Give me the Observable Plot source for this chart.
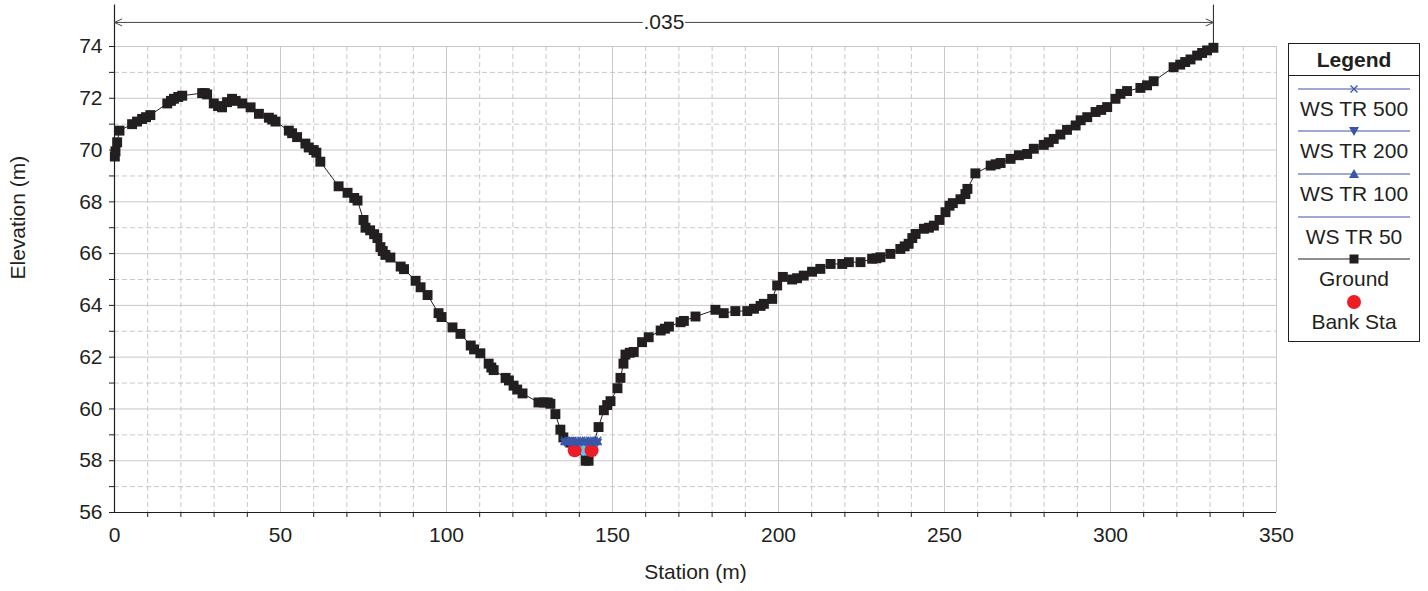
<!DOCTYPE html>
<html><head><meta charset="utf-8">
<script src="https://cdn.jsdelivr.net/npm/d3@7"></script>
<script src="https://cdn.jsdelivr.net/npm/@observablehq/plot@0.6"></script>
<style>
body{margin:0;background:#fff;font-family:"Liberation Sans",Arial,sans-serif;}
#wrap{position:relative;width:1428px;height:591px;overflow:hidden;}
#legend{position:absolute;left:1288px;top:43px;}
</style></head><body><div id="wrap"></div>
<script>
// ---- data ----
const groundStation = [0.1,0.3,0.8,1.5,5.3,6.8,8.3,9.5,10.8,15.9,17.0,17.9,19.2,20.4,26.4,27.2,27.9,29.9,31.2,32.4,33.9,35.4,36.5,38.5,41.0,43.5,46.5,47.5,48.5,52.5,53.5,55.0,57.5,58.5,60.0,60.8,62.0,67.5,70.2,72.2,73.2,75.0,75.6,77.0,78.2,79.2,80.1,80.8,81.6,83.1,86.2,87.2,90.7,92.2,94.3,97.6,98.5,101.8,104.2,107.3,108.3,110.2,112.7,113.5,114.2,117.8,118.8,120.2,121.3,122.9,127.7,129.3,130.5,131.3,132.8,134.3,135.2,137.3,141.9,142.8,145.8,147.4,148.4,149.4,151.5,152.4,153.3,153.9,155.2,156.4,158.9,160.9,164.5,165.8,167.0,170.5,171.5,175.0,181.0,183.5,187.0,190.6,192.6,194.6,195.6,198.1,199.6,201.3,204.1,205.6,207.6,210.1,212.6,215.7,219.2,221.2,224.7,228.2,229.5,230.7,233.7,236.7,238.0,239.2,240.3,241.3,243.8,245.3,246.8,248.5,250.3,251.5,252.5,254.8,256.3,256.9,259.3,263.9,265.4,266.9,269.9,272.4,274.9,276.9,279.9,281.4,282.9,284.9,286.9,289.5,291.0,293.0,295.5,297.2,299.0,301.5,303.0,305.0,309.0,311.0,313.0,319.0,321.0,322.5,324.1,326.1,327.6,329.1,331.0];
const groundElev = [69.75,69.95,70.3,70.75,71.0,71.1,71.2,71.27,71.35,71.8,71.9,71.98,72.05,72.1,72.2,72.2,72.15,71.8,71.7,71.65,71.85,71.98,71.9,71.8,71.65,71.4,71.25,71.18,71.1,70.75,70.65,70.5,70.25,70.1,70.0,69.9,69.55,68.6,68.35,68.15,68.05,67.3,67.0,66.9,66.75,66.6,66.25,66.1,65.95,65.85,65.5,65.4,64.95,64.7,64.4,63.7,63.55,63.15,62.9,62.45,62.3,62.15,61.75,61.6,61.5,61.2,61.1,60.9,60.75,60.6,60.25,60.25,60.25,60.2,59.8,59.2,58.9,58.7,58.0,58.0,59.3,59.95,60.15,60.3,60.8,61.2,61.75,62.1,62.17,62.2,62.58,62.77,63.03,63.1,63.18,63.35,63.4,63.57,63.83,63.7,63.78,63.78,63.87,63.98,64.06,64.25,64.77,65.1,65.0,65.05,65.15,65.3,65.41,65.6,65.6,65.67,65.67,65.8,65.82,65.86,65.99,66.18,66.28,66.38,66.6,66.76,66.96,67.0,67.08,67.3,67.6,67.85,67.95,68.1,68.3,68.5,69.1,69.4,69.45,69.5,69.66,69.8,69.85,70.05,70.2,70.3,70.43,70.6,70.78,70.95,71.15,71.27,71.47,71.55,71.66,71.98,72.17,72.28,72.4,72.5,72.66,73.2,73.3,73.4,73.5,73.65,73.75,73.85,73.95];

const wsProfiles = ["WS TR 500","WS TR 200","WS TR 100","WS TR 50"];
const wsElev = [58.78, 58.74, 58.70, 58.66];
const wsMarkerStation = [135.6, 136.8, 138.0, 139.3, 140.6, 141.9, 143.2, 144.4, 145.5];

const wetStation = [137.3, 141.9, 142.8, 144.4];
const wetBed = [58.66, 58.0, 58.0, 58.66];

const bankStation = [138.6, 143.7];
const bankElev = [58.4, 58.4];

const xMajorTicks = [0,50,100,150,200,250,300,350];
const xMinorTicks = d3.range(0,351,10).filter(v => v % 50 !== 0);
const yMajorTicks = [56,58,60,62,64,66,68,70,72,74];
const yMinorTicks = [57,59,61,63,65,67,69,71,73];

const nValueLabel = ".035";
const nValueStations = [0, 331];   // extent of the n-value annotation
const nValueElev = 74.93;          // annotation row above the plot
const annotTopElev = 75.6;

// ---- build ----
const ground = groundStation.map((x,i)=>({x, y: groundElev[i]}));
const wsLines = wsProfiles.flatMap((name,i)=>[{name, x: wsMarkerStation[0], y: wsElev[i]},{name, x: wsMarkerStation[wsMarkerStation.length-1], y: wsElev[i]}]);
const wsMarkers = wsProfiles.flatMap((name,i)=> wsMarkerStation.map(x=>({name, x, y: wsElev[i]})));
const wet = wetStation.map((x,i)=>({x, y1: wetBed[i], y2: wsElev[3]}));
const banks = bankStation.map((x,i)=>({x, y: bankElev[i]}));

const BLUE = "#3a56a8", INK = "#231f20", GRID = "#c8c8c8";
const midN = (nValueStations[0]+nValueStations[1])/2;

const plot = Plot.plot({
  width: 1428, height: 591,
  marginLeft: 114, marginRight: 152, marginTop: 46, marginBottom: 79,
  style: {fontFamily: "'Liberation Sans', Arial, sans-serif", fontSize: "21px", color: INK, background: "white"},
  x: {domain: [0, 350]},
  y: {domain: [56, 74]},
  marks: [
    Plot.gridX(xMinorTicks, {stroke: GRID, strokeOpacity: 1, strokeDasharray: "5,3"}),
    Plot.gridY(yMinorTicks, {stroke: GRID, strokeOpacity: 1, strokeDasharray: "5,3"}),
    Plot.gridX(xMajorTicks, {stroke: GRID, strokeOpacity: 1}),
    Plot.gridY(yMajorTicks, {stroke: GRID, strokeOpacity: 1}),
    Plot.axisX(xMinorTicks, {tickSize: 5, tickFormat: () => "", stroke: INK}),
    Plot.axisX(xMajorTicks, {tickSize: 0, tickPadding: 15, label: null, fontSize: 21, fill: INK}),
    Plot.axisY(yMinorTicks, {tickSize: 5, tickFormat: () => "", stroke: INK}),
    Plot.axisY(yMajorTicks, {tickSize: 5, tickPadding: 7, label: null, fontSize: 21, fill: INK}),
    Plot.ruleY([56], {x1: 0, x2: 350, stroke: INK, strokeWidth: 1.2}),
    Plot.ruleX([0], {y1: 56, y2: annotTopElev, stroke: INK, strokeWidth: 1.2}),
    Plot.ruleX([nValueStations[1]], {y1: 74, y2: annotTopElev, stroke: INK, strokeWidth: 1}),
    // n-value annotation
    Plot.arrow([{x1: midN - 6.5, x2: nValueStations[0]}, {x1: midN + 6.5, x2: nValueStations[1]}], {
      x1: "x1", x2: "x2", y1: () => nValueElev, y2: () => nValueElev,
      stroke: "#444", strokeWidth: 1, headLength: 12, headAngle: 50, bend: 0
    }),
    Plot.text([nValueLabel], {x: midN, y: nValueElev, text: d => d, fontSize: 21, fill: INK}),
    // water area
    Plot.areaY(wet, {x: "x", y1: "y1", y2: "y2", fill: "#5ec8ea"}),
    // ground
    Plot.line(ground, {x: "x", y: "y", stroke: INK, strokeWidth: 1}),
    Plot.dot(ground, {x: "x", y: "y", symbol: "square", r: 5.6, fill: INK}),
    // bank stations
    Plot.dot(banks, {x: "x", y: "y", r: 7, fill: "#ee1c25"}),
    // water surfaces
    Plot.line(wsLines, {x: "x", y: "y", z: "name", stroke: BLUE, strokeWidth: 1.2}),
    Plot.dot(wsMarkers.filter(d => d.name === "WS TR 500"), {x: "x", y: "y", symbol: "times", r: 3.5, stroke: BLUE, strokeWidth: 1.3}),
    Plot.dot(wsMarkers.filter(d => d.name === "WS TR 200"), {x: "x", y: "y", symbol: "triangle", r: 3.5, fill: BLUE, rotate: 180}),
    Plot.dot(wsMarkers.filter(d => d.name === "WS TR 100"), {x: "x", y: "y", symbol: "triangle", r: 3.5, fill: BLUE}),
    // axis titles
    Plot.text(["Elevation (m)"], {frameAnchor: "left", dx: -96, rotate: -90, text: d => d, fontSize: 21, fill: INK}),
    Plot.text(["Station (m)"], {frameAnchor: "bottom", dy: 66, text: d => d, fontSize: 21, fill: INK})
  ]
});
document.getElementById("wrap").appendChild(plot);

// ---- legend ----
const legendItems = ["WS TR 500","WS TR 200","WS TR 100","WS TR 50","Ground","Bank Sta"];
const lg = d3.select("#wrap").append("svg").attr("id","legend").attr("width",133).attr("height",301)
  .style("font-family","'Liberation Sans', Arial, sans-serif");
lg.append("rect").attr("x",0.5).attr("y",0.5).attr("width",131).attr("height",298).attr("fill","white").attr("stroke",INK);
lg.append("text").attr("x",66).attr("y",16).attr("text-anchor","middle").attr("dominant-baseline","central")
  .attr("font-weight","bold").attr("font-size",21).attr("fill",INK).text("Legend");
lg.append("line").attr("x1",0).attr("x2",132).attr("y1",32.5).attr("y2",32.5).attr("stroke",INK);
const lineY = [46, 88, 131, 174, 216, 259];
const textY = [65, 107, 150, 193, 235, 278];
legendItems.forEach((name, i) => {
  const ly = lineY[i];
  if (name !== "Bank Sta") {
    lg.append("line").attr("x1",10).attr("x2",122).attr("y1",ly).attr("y2",ly)
      .attr("stroke", name === "Ground" ? INK : BLUE).attr("stroke-width",1.2);
  }
  if (name === "WS TR 500") {
    lg.append("path").attr("d",`M${66-3.5},${ly-3.5}L${66+3.5},${ly+3.5}M${66-3.5},${ly+3.5}L${66+3.5},${ly-3.5}`).attr("stroke",BLUE).attr("stroke-width",1.3);
  } else if (name === "WS TR 200") {
    lg.append("path").attr("d",`M${61},${ly-4}L${71},${ly-4}L${66},${ly+5}Z`).attr("fill",BLUE);
  } else if (name === "WS TR 100") {
    lg.append("path").attr("d",`M${61},${ly+4}L${71},${ly+4}L${66},${ly-5}Z`).attr("fill",BLUE);
  } else if (name === "Ground") {
    lg.append("rect").attr("x",61.5).attr("y",ly-4.5).attr("width",9).attr("height",9).attr("fill",INK);
  } else if (name === "Bank Sta") {
    lg.append("circle").attr("cx",66).attr("cy",ly).attr("r",7).attr("fill","#ee1c25");
  }
  lg.append("text").attr("x",66).attr("y",textY[i]).attr("text-anchor","middle").attr("dominant-baseline","central")
    .attr("font-size",21).attr("fill",INK).text(name);
});
</script>
</body></html>
